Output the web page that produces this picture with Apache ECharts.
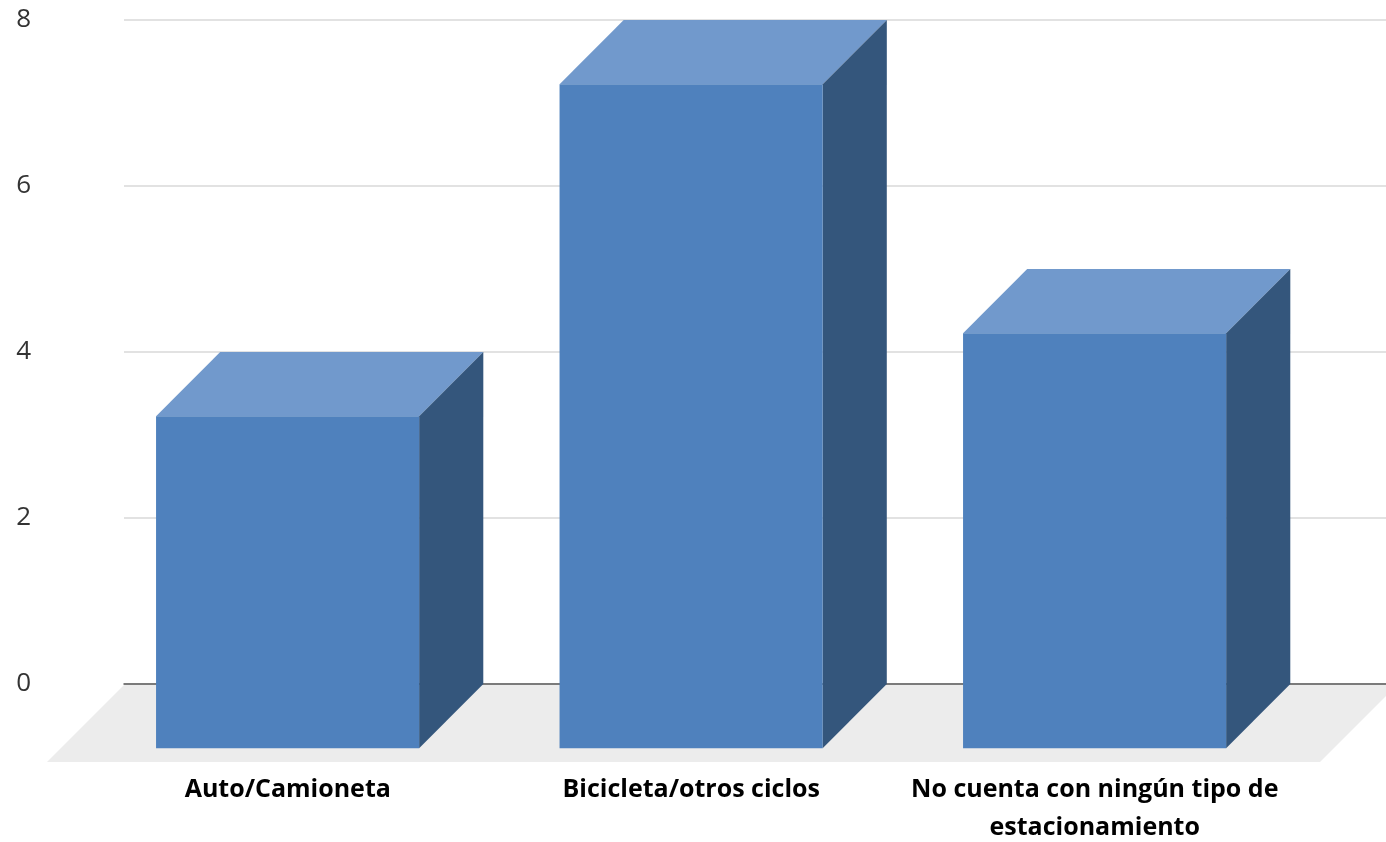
<!DOCTYPE html>
<html>
<head>
<meta charset="utf-8">
<script src="https://cdn.jsdelivr.net/npm/echarts@6/dist/echarts.min.js"></script>
<style>
html,body{margin:0;padding:0;background:#fff;}
#chart{width:1386px;height:842px;}
</style>
</head>
<body>
<div id="chart"></div>
<script>
const categories = ['Auto/Camioneta', 'Bicicleta/otros ciclos', 'No cuenta con ningún tipo de\nestacionamiento'];
const values = [4, 8, 5];
const yMin = 0, yMax = 8, yStep = 2;

const FRONT = '#4f81bd', TOP = '#7199cc', SIDE = '#34567c', FLOOR = '#ececec';
const DEPTH_RATIO = 0.159;   // bar depth as fraction of category band
const BAR_RATIO = 0.652;     // bar width as fraction of category band
const FLOOR_DEPTH = 77;

const chart = echarts.init(document.getElementById('chart'), null, {renderer: 'canvas'});

const option = {
  backgroundColor: '#fff',
  animation: false,
  grid: [
    {left: 124, right: -11, top: 20, bottom: 158, containLabel: false, outerBoundsMode: 'none'},
    {left: 150, right: 25.5, top: 20, bottom: 158, containLabel: false, outerBoundsMode: 'none'}
  ],
  xAxis: [
    {gridIndex: 0, type: 'value', min: 0, max: 1,
     axisLine: {show: true, onZero: false, lineStyle: {color: '#595959', width: 1.5}},
     axisTick: {show: false}, axisLabel: {show: false}, splitLine: {show: false}},
    {gridIndex: 1, type: 'category', data: categories,
     axisLine: {show: false}, axisTick: {show: false}, splitLine: {show: false},
     axisLabel: {interval: 0, margin: 87, color: '#000', fontFamily: 'Open Sans',
                 fontWeight: 'bold', fontSize: 25, lineHeight: 38,
                 padding: [0, 128, 0, 0]}}
  ],
  yAxis: [
    {gridIndex: 0, type: 'value', min: yMin, max: yMax, interval: yStep,
     axisLine: {show: false}, axisTick: {show: false},
     axisLabel: {margin: 93, align: 'right', color: '#333', fontFamily: 'Open Sans', fontSize: 26},
     splitLine: {show: true, lineStyle: {color: '#d9d9d9', width: 1.5}}},
    {gridIndex: 1, type: 'value', min: yMin, max: yMax, interval: yStep, show: false}
  ],
  series: [
    {
      type: 'custom', xAxisIndex: 0, yAxisIndex: 0, z: 1,
      data: [[0, 0]],
      silent: true,
      renderItem: function (params, api) {
        const cs = params.coordSys;
        const base = api.coord([0, 0])[1] + 1;
        const l = cs.x, r = cs.x + cs.width;
        return {
          type: 'polygon',
          shape: {points: [[l, base], [r, base], [r - FLOOR_DEPTH, base + FLOOR_DEPTH], [l - FLOOR_DEPTH, base + FLOOR_DEPTH]]},
          style: {fill: FLOOR}
        };
      }
    },
    {
      type: 'custom', xAxisIndex: 1, yAxisIndex: 1, z: 3,
      data: values.map((v, i) => [i, v]),
      renderItem: function (params, api) {
        const top = api.coord([api.value(0), api.value(1)]);
        const baseY = api.coord([api.value(0), 0])[1];
        const band = api.size([1, 0])[0];
        const bw = band * BAR_RATIO;
        const d = band * DEPTH_RATIO;
        const L = top[0] - bw / 2, R = top[0] + bw / 2, T = top[1];
        return {
          type: 'group',
          children: [
            {type: 'polygon', shape: {points: [[L - d, T + d], [L, T], [R, T], [R - d, T + d]]}, style: {fill: TOP}},
            {type: 'polygon', shape: {points: [[R - d, T + d], [R, T], [R, baseY], [R - d, baseY + d]]}, style: {fill: SIDE}},
            {type: 'rect', shape: {x: L - d, y: T + d, width: bw, height: baseY - T}, style: {fill: FRONT}}
          ]
        };
      }
    }
  ]
};
chart.setOption(option);
</script>
</body>
</html>
